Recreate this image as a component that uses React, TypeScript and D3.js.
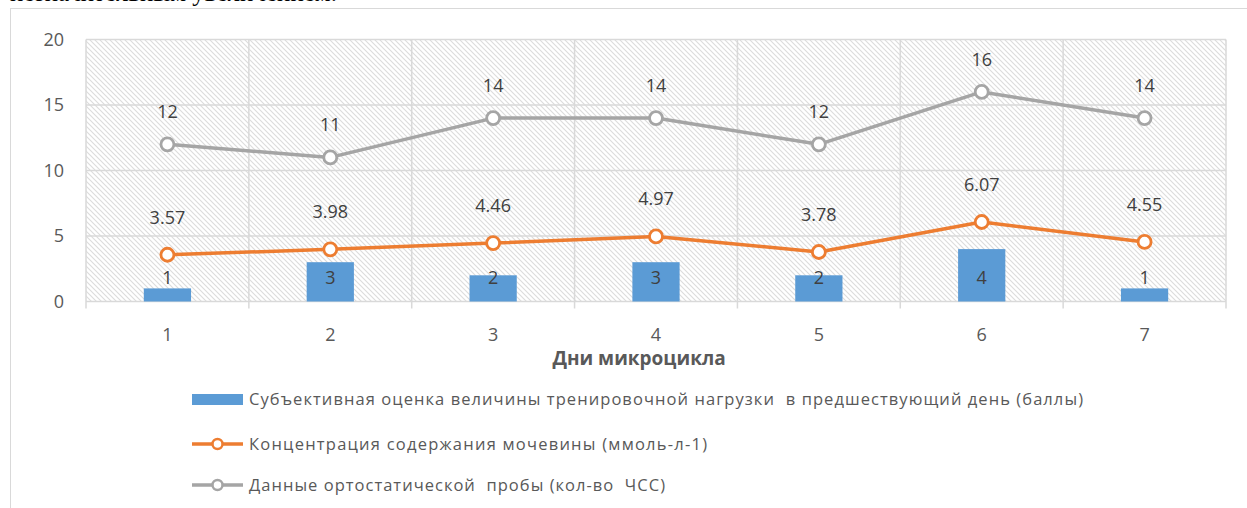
import React from "react";
import * as d3 from "d3";

const days = ["1", "2", "3", "4", "5", "6", "7"];
const subjective = [1, 3, 2, 3, 2, 4, 1];
const urea = [3.57, 3.98, 4.46, 4.97, 3.78, 6.07, 4.55];
const ortho = [12, 11, 14, 14, 12, 16, 14];
const yTicks = [0, 5, 10, 15, 20];
const seriesNames = [
  "Субъективная оценка величины тренировочной нагрузки  в предшествующий день (баллы)",
  "Концентрация содержания мочевины (ммоль-л-1)",
  "Данные ортостатической  пробы (кол-во  ЧСС)",
];
const legendWidths = [834, 458, 416];
const xTitle = "Дни микроцикла";
const topText = "незначительным увеличением.";

const W = 1247;
const H = 508;
const left = 86;
const right = 1226;
const top = 39.5;
const bottom = 301.5;

const BLUE = "#5B9BD5";
const ORANGE = "#ED7D31";
const GRAY = "#A5A5A5";
const TXT = "#595959";
const GRID = "#D9D9D9";
const FONT = "'Open Sans', 'Noto Sans', sans-serif";

export default function App() {
  const x = d3.scaleBand<string>().domain(days).range([left, right]).paddingInner(0).paddingOuter(0);
  const y = d3.scaleLinear().domain([0, 20]).range([bottom, top]);
  const cx = (d: string) => (x(d) as number) + x.bandwidth() / 2;
  const barW = x.bandwidth() * 0.29;

  const lineGen = d3
    .line<number>()
    .x((_, i) => cx(days[i]))
    .y((v) => y(v));

  const boundaries = days.map((d) => x(d) as number).concat([right]);
  const legendY = [399.5, 444, 485];

  return (
    <svg
      width={W}
      height={H}
      style={{ position: "absolute", left: 0, top: 0, background: "#fff" }}
      fontFamily={FONT}
    >
      <defs>
        <pattern id="hatch" width="5" height="5" patternUnits="userSpaceOnUse">
          <rect width="5" height="5" fill="#fff" />
          <path d="M-1,-1 L6,6 M-1,4 L1,6 M4,-1 L6,1" stroke="#DCDCDC" strokeWidth="1.1" />
        </pattern>
      </defs>

      <text x={10} y={1} fontFamily="'Liberation Serif', 'Times New Roman', serif" fontSize={25} fill="#000">
        {topText}
      </text>

      {/* outer chart frame */}
      <rect x={10.5} y={8.5} width={W + 10} height={H + 10} fill="none" stroke={GRID} strokeWidth={1} />

      {/* plot area hatch */}
      <rect x={left} y={top} width={right - left} height={bottom - top} fill="url(#hatch)" />

      {/* horizontal gridlines */}
      {yTicks.map((t) => (
        <line key={"h" + t} x1={left} x2={right} y1={y(t)} y2={y(t)} stroke={GRID} strokeWidth={1.5} />
      ))}
      {/* vertical gridlines / ticks */}
      {boundaries.map((b, i) => (
        <line key={"v" + i} x1={b} x2={b} y1={top} y2={bottom + 7} stroke={GRID} strokeWidth={1.5} />
      ))}

      {/* y tick labels */}
      {yTicks.map((t) => (
        <text key={"yl" + t} x={64} y={y(t)} dy="0.35em" textAnchor="end" fontSize={18} fill={TXT}>
          {t}
        </text>
      ))}
      {/* x tick labels */}
      {days.map((d) => (
        <text key={"xl" + d} x={cx(d)} y={335} dy="0.35em" textAnchor="middle" fontSize={18} fill={TXT}>
          {d}
        </text>
      ))}
      <text x={639} y={358.5} dy="0.35em" textAnchor="middle" fontSize={19} fontWeight="bold" fill={TXT}>
        {xTitle}
      </text>

      {/* bars */}
      {days.map((d, i) => (
        <rect
          key={"b" + d}
          x={cx(d) - barW / 2}
          y={y(subjective[i])}
          width={barW}
          height={y(0) - y(subjective[i])}
          fill={BLUE}
        />
      ))}
      {days.map((d, i) => (
        <text key={"bl" + d} x={cx(d)} y={y(0) - 24} dy="0.35em" textAnchor="middle" fontSize={18} fill="#404040">
          {subjective[i]}
        </text>
      ))}

      {/* lines */}
      <path d={lineGen(ortho) as string} fill="none" stroke={GRAY} strokeWidth={3.5} strokeLinejoin="round" />
      <path d={lineGen(urea) as string} fill="none" stroke={ORANGE} strokeWidth={3.5} strokeLinejoin="round" />
      {days.map((d, i) => (
        <circle key={"og" + d} cx={cx(d)} cy={y(ortho[i])} r={6.5} fill="#fff" stroke={GRAY} strokeWidth={2.8} />
      ))}
      {days.map((d, i) => (
        <circle key={"ou" + d} cx={cx(d)} cy={y(urea[i])} r={6.5} fill="#fff" stroke={ORANGE} strokeWidth={2.8} />
      ))}
      {days.map((d, i) => (
        <text key={"lg" + d} x={cx(d)} y={y(ortho[i]) - 26} textAnchor="middle" fontSize={18} fill="#404040">
          {ortho[i]}
        </text>
      ))}
      {days.map((d, i) => (
        <text key={"lu" + d} x={cx(d)} y={y(urea[i]) - 31} textAnchor="middle" fontSize={18} fill="#404040">
          {urea[i].toFixed(2)}
        </text>
      ))}

      {/* legend */}
      <rect x={192} y={394} width={51} height={11} fill={BLUE} />
      {[1, 2].map((k) => (
        <g key={"lgl" + k}>
          <line x1={192} x2={243} y1={legendY[k]} y2={legendY[k]} stroke={k === 1 ? ORANGE : GRAY} strokeWidth={3.5} />
          <circle cx={217.5} cy={legendY[k]} r={5} fill="#fff" stroke={k === 1 ? ORANGE : GRAY} strokeWidth={2.5} />
        </g>
      ))}
      {seriesNames.map((s, k) => (
        <text
          key={"lt" + k}
          x={249}
          y={legendY[k]}
          dy="0.35em"
          fontSize={16.5}
          fill={TXT}
          textLength={legendWidths[k]}
          lengthAdjust="spacing"
          style={{ whiteSpace: "pre" }}
        >
          {s}
        </text>
      ))}
    </svg>
  );
}
